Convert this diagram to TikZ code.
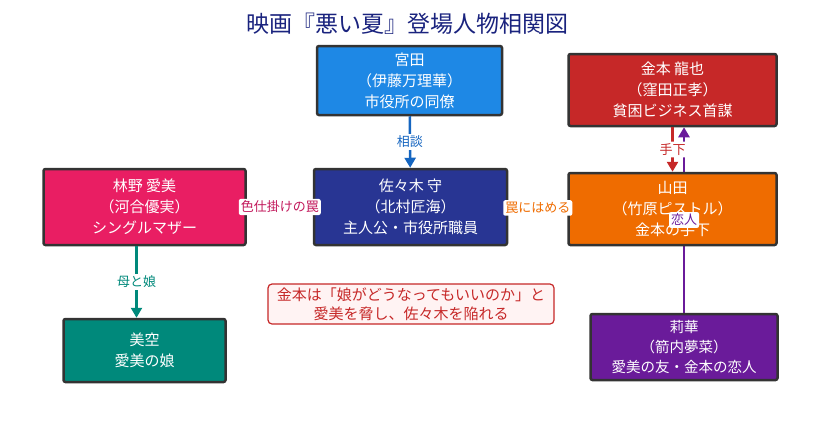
\documentclass[tikz,border=0pt]{standalone}
\usepackage{fontspec}
\setmainfont{Noto Sans CJK JP}
\usetikzlibrary{arrows.meta,backgrounds}

\definecolor{titleNavy}{HTML}{1A237E}
\definecolor{boxBorder}{HTML}{333333}
\definecolor{miyataBlue}{HTML}{1E88E5}
\definecolor{sasakiNavy}{HTML}{283593}
\definecolor{aimiPink}{HTML}{E91E63}
\definecolor{kanemotoRed}{HTML}{C62828}
\definecolor{yamadaOrange}{HTML}{EF6C00}
\definecolor{misoraTeal}{HTML}{00897B}
\definecolor{rikaPurple}{HTML}{6A1B9A}
\definecolor{consultBlue}{HTML}{1565C0}
\definecolor{trapPink}{HTML}{C2185B}
\definecolor{noteFill}{HTML}{FFF3F3}

\tikzset{
    person/.style={draw=boxBorder, line width=2.5pt, rounded corners=2pt,
        text=white, align=center, font=\fontsize{15}{21}\selectfont},
    rel/.style={line width=2.5pt, -{Triangle[length=10pt,width=11pt]}},
    lbl/.style={fill=white, rounded corners=2pt, inner sep=2pt,
        font=\fontsize{13}{15}\selectfont}
}

\begin{document}
\begin{tikzpicture}[x=1pt, y=-1pt]
    \useasboundingbox (0,0) rectangle (813,434);

    % タイトル
    \node[text=titleNavy, font=\fontsize{23}{27}\selectfont] (title) at (407,24) {映画『悪い夏』登場人物相関図};

    % 人物
    \node[person, fill=miyataBlue, minimum width=185pt, minimum height=69pt] (miyata) at (409.5,80.5)
        {宮田\\（伊藤万理華）\\市役所の同僚};
    \node[person, fill=sasakiNavy, minimum width=193pt, minimum height=76pt] (sasaki) at (410.5,207)
        {佐々木 守\\（北村匠海）\\主人公・市役所職員};
    \node[person, fill=aimiPink, minimum width=202pt, minimum height=76pt] (aimi) at (144.5,207)
        {林野 愛美\\（河合優実）\\シングルマザー};
    \node[person, fill=kanemotoRed, minimum width=208pt, minimum height=72pt] (kanemoto) at (672.5,90)
        {金本 龍也\\（窪田正孝）\\貧困ビジネス首謀};
    \node[person, fill=yamadaOrange, minimum width=208pt, minimum height=72pt] (yamada) at (672.5,209)
        {山田\\（竹原ピストル）\\金本の手下};
    \node[person, fill=misoraTeal, minimum width=162pt, minimum height=63pt] (misora) at (144.5,350.5)
        {美空\\愛美の娘};
    \node[person, fill=rikaPurple, minimum width=187pt, minimum height=66pt, font=\fontsize{14.5}{20}\selectfont] (rika) at (684,347)
        {莉華\\（箭内夢菜）\\愛美の友・金本の恋人};

    % 補足
    \node[draw=kanemotoRed, fill=noteFill, line width=1.2pt, rounded corners=4pt, text=kanemotoRed,
        align=center, font=\fontsize{15}{19}\selectfont, minimum width=286pt, minimum height=40pt, inner sep=1pt] (note) at (411,304)
        {金本は「娘がどうなってもいいのか」と\\愛美を脅し、佐々木を陥れる};

    % 関係
    \draw[rel, consultBlue] (miyata) -- (sasaki)
        node[midway, lbl, text=consultBlue] {相談};
    \draw[rel, trapPink] (aimi) -- (sasaki)
        node[midway, lbl, text=trapPink] {色仕掛けの罠};
    \draw[rel, yamadaOrange] (sasaki) -- (yamada)
        node[midway, lbl, text=yamadaOrange] {罠にはめる};
    \draw[rel, kanemotoRed] (kanemoto) -- (yamada)
        node[midway, lbl, text=kanemotoRed] {手下};
    \draw[rel, misoraTeal] ([xshift=-8pt]aimi.south) -- ([xshift=-8pt]misora.north)
        node[midway, lbl, text=misoraTeal] {母と娘};

    % 恋人（山田の後ろを通る）
    \begin{scope}[on background layer]
        \draw[rel, rikaPurple] (rika.north) -- (rika.north |- kanemoto.south);
    \end{scope}
    \path (rika.north) -- (rika.north |- kanemoto.south)
        node[midway, lbl, text=rikaPurple] {恋人};
\end{tikzpicture}
\end{document}
